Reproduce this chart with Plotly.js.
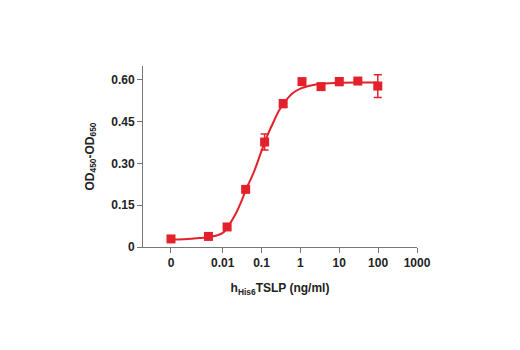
<!DOCTYPE html>
<html>
<head>
<meta charset="utf-8">
<script src="https://cdn.plot.ly/plotly-3.0.1.min.js"></script>
<style>html,body{margin:0;padding:0;background:#fff;}#chart{width:520px;height:350px;}</style>
</head>
<body>
<div id="chart"></div>
<script>
// "0" concentration is displayed at this placeholder position on the log axis
var zeroPos = 0.000468;
var concentrations = [0, 0.0043, 0.013, 0.039, 0.12, 0.36, 1.1, 3.4, 10, 30, 98];
var odValues = [0.029, 0.038, 0.072, 0.207, 0.377, 0.515, 0.594, 0.576, 0.594, 0.596, 0.578];
var odErrors = [0.003, 0.004, 0.006, 0.006, 0.029, 0.014, 0.010, 0.006, 0.014, 0.004, 0.041];
var fitX = [0, 0.001, 0.0025, 0.005, 0.008, 0.011, 0.0148, 0.022, 0.0316, 0.04, 0.063, 0.1, 0.141, 0.2, 0.282, 0.4, 0.63, 1, 2, 4, 10, 31.6, 100];
var fitY = [0.027, 0.028, 0.032, 0.037, 0.044, 0.055, 0.080, 0.121, 0.170, 0.207, 0.268, 0.345, 0.400, 0.447, 0.490, 0.522, 0.552, 0.569, 0.581, 0.587, 0.590, 0.591, 0.591];
var tickValues = [zeroPos, 0.01, 0.1, 1, 10, 100, 1000];
var tickLabels = ['0', '0.01', '0.1', '1', '10', '100', '1000'];
var yTickValues = [0, 0.15, 0.30, 0.45, 0.60];
var yTickLabels = ['0', '0.15', '0.30', '0.45', '0.60'];

function pos(c) { return c === 0 ? zeroPos : c; }
var red = '#e3212b';
var font = 'Liberation Sans Narrow, Arial Narrow, Liberation Sans, sans-serif';

var traces = [
  {x: fitX.map(pos), y: fitY, mode: 'lines', line: {color: red, width: 2, shape: 'spline'}, hoverinfo: 'skip', showlegend: false},
  {x: concentrations.map(pos), y: odValues, mode: 'markers',
   marker: {symbol: 'square', size: 9, color: red},
   error_y: {type: 'data', array: odErrors, visible: true, color: red, thickness: 1.5, width: 4},
   showlegend: false}
];

var layout = {
  width: 520, height: 350,
  margin: {l: 143, r: 103, t: 66, b: 103},
  paper_bgcolor: '#fff', plot_bgcolor: '#fff',
  font: {family: font, size: 12, color: '#222'},
  xaxis: {
    type: 'log', range: [-4.05, 3.0],
    tickvals: tickValues, ticktext: tickLabels,
    showline: true, linecolor: '#777', linewidth: 1,
    ticks: 'outside', ticklen: 5, tickcolor: '#777',
    showgrid: false, zeroline: false,
    tickfont: {family: font, size: 12, color: '#222', weight: 'bold'},
    title: {text: 'h<sub>His6</sub>TSLP (ng/ml)', font: {family: font, size: 12, color: '#222', weight: 'bold'}, standoff: 14}
  },
  yaxis: {
    range: [0, 0.65],
    tickvals: yTickValues, ticktext: yTickLabels,
    showline: true, linecolor: '#777', linewidth: 1,
    ticks: 'outside', ticklen: 5, tickcolor: '#777',
    showgrid: false, zeroline: false,
    tickfont: {family: font, size: 12, color: '#222', weight: 'bold'},
    title: {text: 'OD<sub>450</sub>-OD<sub>650</sub>', font: {family: font, size: 12, color: '#222', weight: 'bold'}, standoff: 14}
  }
};

Plotly.newPlot('chart', traces, layout, {displayModeBar: false, staticPlot: true});
</script>
</body>
</html>
